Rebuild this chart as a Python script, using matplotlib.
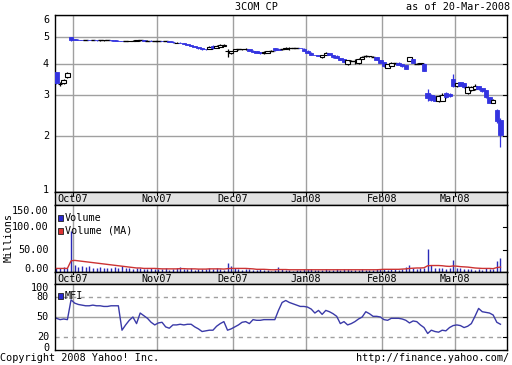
import matplotlib
matplotlib.use('Agg')
import matplotlib.pyplot as plt
import matplotlib.transforms as mtransforms
from matplotlib.patches import Rectangle
import numpy as np

# ---------------- data ----------------
month_labels = ['Oct07', 'Nov07', 'Dec07', 'Jan08', 'Feb08', 'Mar08']
month_first_idx = [5, 28, 49, 69, 90, 110]

opens = [3.71, 3.33, 3.37, 3.55, 5.00, 4.92, 4.91, 4.90, 4.89, 4.89, 4.88, 4.88, 4.87, 4.87, 4.88, 4.88,
         4.87, 4.86, 4.85, 4.84, 4.84, 4.85, 4.86, 4.87, 4.87, 4.86, 4.86, 4.85, 4.85, 4.85, 4.84, 4.84,
         4.82, 4.77, 4.78, 4.76, 4.73, 4.69, 4.65, 4.61, 4.56, 4.53, 4.55, 4.66, 4.59, 4.63, 4.66, 4.44,
         4.38, 4.45, 4.52, 4.52, 4.52, 4.52, 4.47, 4.45, 4.42, 4.37, 4.40, 4.46, 4.56, 4.55, 4.52, 4.53,
         4.56, 4.57, 4.58, 4.58, 4.55, 4.47, 4.40, 4.31, 4.29, 4.22, 4.32, 4.38, 4.30, 4.28, 4.20, 4.15,
         3.98, 4.10, 4.08, 4.02, 4.18, 4.26, 4.26, 4.25, 4.22, 4.12, 4.05, 3.85, 3.93, 4.01, 4.03, 3.98,
         3.95, 4.10, 4.15, 4.00, 4.00, 4.00, 3.08, 3.02, 2.98, 2.84, 2.86, 3.08, 3.05, 3.48, 3.26, 3.40,
         3.36, 3.06, 3.15, 3.18, 3.27, 3.22, 3.15, 2.95, 2.80, 2.62, 2.37]
closes = [3.37, 3.35, 3.46, 3.68, 4.90, 4.91, 4.90, 4.89, 4.89, 4.88, 4.88, 4.87, 4.87, 4.88, 4.88, 4.87,
          4.86, 4.85, 4.84, 4.84, 4.85, 4.86, 4.87, 4.87, 4.86, 4.86, 4.85, 4.85, 4.85, 4.84, 4.84, 4.82,
          4.79, 4.78, 4.76, 4.73, 4.69, 4.65, 4.61, 4.56, 4.52, 4.52, 4.62, 4.57, 4.66, 4.70, 4.69, 4.46,
          4.45, 4.52, 4.52, 4.53, 4.55, 4.45, 4.43, 4.38, 4.37, 4.43, 4.45, 4.46, 4.48, 4.50, 4.52, 4.58,
          4.57, 4.57, 4.58, 4.57, 4.45, 4.40, 4.32, 4.30, 4.28, 4.30, 4.40, 4.30, 4.22, 4.20, 4.12, 4.05,
          4.12, 4.10, 4.09, 4.18, 4.24, 4.26, 4.27, 4.25, 4.14, 4.02, 3.90, 3.98, 4.02, 4.01, 3.96, 3.90,
          3.82, 4.22, 4.02, 4.00, 4.01, 3.75, 2.92, 2.88, 2.86, 2.98, 3.02, 2.96, 2.98, 3.28, 3.36, 3.28,
          3.25, 3.24, 3.24, 3.27, 3.18, 3.12, 2.95, 2.80, 2.88, 2.35, 2.02]
highs = [3.73, 3.41, 3.48, 3.70, 5.02, 4.93, 4.92, 4.91, 4.90, 4.90, 4.89, 4.89, 4.88, 4.89, 4.89, 4.89,
         4.88, 4.87, 4.86, 4.85, 4.86, 4.87, 4.88, 4.88, 4.88, 4.87, 4.87, 4.86, 4.86, 4.86, 4.85, 4.85,
         4.83, 4.80, 4.79, 4.77, 4.74, 4.70, 4.66, 4.62, 4.57, 4.55, 4.64, 4.67, 4.68, 4.72, 4.71, 4.52,
         4.47, 4.54, 4.54, 4.55, 4.57, 4.53, 4.48, 4.46, 4.43, 4.45, 4.47, 4.48, 4.58, 4.57, 4.54, 4.60,
         4.62, 4.59, 4.59, 4.59, 4.56, 4.48, 4.41, 4.32, 4.30, 4.32, 4.42, 4.39, 4.31, 4.29, 4.21, 4.16,
         4.14, 4.12, 4.15, 4.20, 4.26, 4.30, 4.28, 4.27, 4.23, 4.13, 4.06, 4.00, 4.04, 4.03, 4.04, 3.99,
         3.96, 4.24, 4.16, 4.02, 4.02, 4.01, 3.20, 3.03, 2.99, 3.00, 3.08, 3.09, 3.06, 3.65, 3.38, 3.41,
         3.37, 3.26, 3.26, 3.34, 3.28, 3.23, 3.16, 2.96, 2.90, 2.64, 2.42]
lows = [3.35, 3.27, 3.35, 3.52, 4.86, 4.89, 4.89, 4.88, 4.88, 4.87, 4.87, 4.86, 4.86, 4.86, 4.87, 4.86,
        4.85, 4.84, 4.83, 4.83, 4.83, 4.84, 4.85, 4.86, 4.85, 4.85, 4.84, 4.84, 4.84, 4.83, 4.83, 4.81,
        4.78, 4.76, 4.75, 4.72, 4.68, 4.64, 4.60, 4.55, 4.51, 4.50, 4.54, 4.55, 4.58, 4.62, 4.64, 4.25,
        4.36, 4.44, 4.50, 4.51, 4.51, 4.44, 4.42, 4.37, 4.36, 4.36, 4.39, 4.44, 4.47, 4.49, 4.50, 4.52,
        4.50, 4.56, 4.56, 4.56, 4.44, 4.39, 4.31, 4.29, 4.27, 4.21, 4.31, 4.29, 4.21, 4.19, 4.11, 4.04,
        3.96, 4.08, 4.00, 4.00, 4.17, 4.22, 4.25, 4.24, 4.13, 4.01, 3.89, 3.84, 3.92, 4.00, 3.95, 3.89,
        3.81, 4.09, 4.01, 3.98, 3.99, 3.74, 2.85, 2.86, 2.84, 2.82, 2.84, 2.94, 2.96, 3.25, 3.24, 3.26,
        3.23, 3.04, 3.14, 3.16, 3.16, 3.10, 2.93, 2.78, 2.78, 2.30, 1.78]

volume_m = [9, 8, 12, 10, 91, 16, 12, 14, 11, 13, 10, 9, 11, 8, 10, 9, 12, 10, 14, 9, 8, 7, 9, 8, 6, 7, 8, 6,
            7, 6, 8, 5, 6, 9, 12, 7, 6, 8, 5, 6, 7, 6, 8, 7, 9, 6, 5, 21, 13,
            8, 6, 5, 7, 6, 5, 4, 6, 5, 4, 3, 5, 11, 6, 5, 4, 3, 4, 5, 6,
            7, 6, 5, 4, 5, 6, 5, 4, 6, 5, 7, 6, 5, 4, 5, 6, 5, 4, 5, 6, 7,
            6, 5, 7, 6, 5, 7, 11, 16, 8, 7, 9, 10, 52, 16, 10, 8, 9, 6, 8, 27,
            9, 8, 6, 7, 6, 5, 6, 5, 8, 7, 6, 24, 31]
volume_ma_m = [8, 8, 8, 8, 25, 26, 25, 24, 23, 22, 21, 20, 19, 18, 17, 16, 15, 14, 13, 12, 11, 10, 9, 9, 8, 8, 8, 8,
               7.5, 7, 7, 7, 7, 7, 7.5, 7.5, 7, 7, 7, 6.5, 6.5, 6.5, 7, 7, 7, 7, 6.5, 7.5, 8,
               8, 8, 8, 8, 7.5, 7, 6, 6, 6, 5.5, 5, 5, 5.5, 5.5, 5.5, 5, 5, 5, 5, 5,
               5, 5, 5, 5, 5, 5, 5, 5, 5, 5, 5, 5, 5, 5, 5, 5, 5, 5, 5, 5, 5.5,
               6, 6, 6, 6, 6, 6.5, 7, 8, 8.5, 9, 9, 9.5, 14, 14.5, 14.5, 14.5, 14, 13, 12.5, 13.5,
               13, 12, 11.5, 11, 10, 9, 8.5, 8, 8, 8, 7.5, 10, 11]

mfi = [48, 46, 47, 46, 76, 71, 69, 68, 67, 67, 68, 67, 67, 66, 66, 67, 67, 67, 30, 38, 45, 50, 40, 56,
       52, 48, 42, 38, 41, 42, 35, 33, 38, 38, 39, 38, 39, 39, 35, 32, 28, 29, 30, 30, 36, 40, 43, 30,
       32, 35, 38, 42, 43, 40, 46, 45, 45, 46, 46, 46, 46, 60, 72, 75, 72, 70, 68, 66, 66, 65, 62, 56,
       60, 54, 60, 58, 55, 51, 40, 43, 38, 40, 43, 47, 50, 58, 55, 51, 51, 50, 46, 45, 48, 48, 48, 47,
       45, 41, 44, 43, 38, 34, 25, 30, 28, 27, 30, 29, 34, 37, 38, 37, 34, 36, 40, 51, 63, 58, 57, 56,
       53, 42, 39]

price_ticks = [1, 2, 3, 4, 5, 6]
volume_ticks = [0, 50, 100, 150]
mfi_ticks = [0, 20, 50, 80, 100]

# ---------------- figure ----------------
W, H = 512, 365
plt.rcParams['font.family'] = ['DejaVu Sans Mono']
FS = 7.3
fig = plt.figure(figsize=(W / 100, H / 100), dpi=100)
fig.patch.set_facecolor('white')

def rect(x0, y0, x1, y1):
    return [x0 / W, 1 - y1 / H, (x1 - x0) / W, (y1 - y0) / H]

ax = fig.add_axes(rect(55, 15, 507, 192))
s1 = fig.add_axes(rect(55, 192, 507, 205))
av = fig.add_axes(rect(55, 205, 507, 272))
s2 = fig.add_axes(rect(55, 272, 507, 284))
am = fig.add_axes(rect(55, 284, 507, 350))

n = len(closes)
x = np.arange(n)
XL = (-0.41, 123.8)
month_pos = [m - 0.5 for m in month_first_idx]
GRID = '#a0a0a0'
BLUE = '#3434e0'

# price scale (compressed log)
fwd = lambda p: np.log10(np.maximum(np.asarray(p, dtype=float) + 1.2, 1e-9))
inv = lambda y: 10 ** np.asarray(y, dtype=float) - 1.2
ax.set_yscale('function', functions=(fwd, inv))
ax.set_ylim(1, 6)
ax.set_xlim(*XL)

for yv in price_ticks:
    ax.axhline(yv, color=GRID, lw=1, zorder=0)
for mp in month_pos:
    ax.axvline(mp, color=GRID, lw=1, zorder=0)

O = np.array(opens); C = np.array(closes); Hh = np.array(highs); L = np.array(lows)
for i in range(n):
    up = C[i] >= O[i]
    col = 'black' if up else BLUE
    ax.vlines(x[i], L[i], Hh[i], color=col, lw=0.9, zorder=2)
    lo, hi = min(O[i], C[i]), max(O[i], C[i])
    if hi - lo < 0.006:
        ax.hlines(C[i], x[i] - 0.65, x[i] + 0.65, color=col, lw=1.0, zorder=3)
    else:
        if up:
            ax.bar(x[i], hi - lo, bottom=lo, width=1.25, facecolor='white', edgecolor='black',
                   lw=0.8, zorder=3)
        else:
            ax.bar(x[i], hi - lo, bottom=lo, width=1.25, facecolor=BLUE, edgecolor=BLUE,
                   lw=0.6, zorder=3)

def style(a):
    a.set_xticks([])
    a.set_yticks([])
    for sp in a.spines.values():
        sp.set_color('black')
        sp.set_linewidth(1)

for a in (ax, s1, av, s2, am):
    style(a)

def ylabels(a, vals, texts, shifts):
    for v, t, s in zip(vals, texts, shifts):
        tr = mtransforms.blended_transform_factory(a.transAxes, a.transData)
        tr = mtransforms.offset_copy(tr, fig=fig, x=-6, y=s, units='dots')
        a.text(0, v, t, transform=tr, ha='right', va='center', fontsize=FS)
    for v in vals:
        a.plot([1.0, 0.992], [v, v], transform=mtransforms.blended_transform_factory(a.transAxes, a.transData),
               color='black', lw=0.8, clip_on=False)

ylabels(ax, price_ticks, [str(t) for t in price_ticks], [2, 0, 0, 0, 0, -5])

# date strips
for s in (s1, s2):
    s.set_facecolor('#e2e2e2')
    s.set_xlim(*XL)
    s.set_ylim(0, 1)
    for mp, lab in zip(month_pos, month_labels):
        s.text(mp, 0.45, lab, ha='center', va='center', fontsize=FS)
        s.plot([mp, mp], [0.8, 1.0], color='black', lw=0.8)

# volume
av.set_xlim(*XL)
av.set_ylim(0, 150)
for mp in month_pos:
    av.axvline(mp, color=GRID, lw=1, zorder=0)
av.vlines(x, 0, volume_m, color='#2a2ab8', lw=1.0, zorder=2)
av.plot(x, volume_ma_m, color='#cc3333', lw=1.0, zorder=3)
ylabels(av, volume_ticks, ['%.2f' % v for v in volume_ticks], [3, 0, 0, -6])

# MFI
am.set_xlim(*XL)
am.set_ylim(0, 100)
for mp in month_pos:
    am.axvline(mp, color=GRID, lw=1, zorder=0)
am.axhline(50, color=GRID, lw=1, zorder=0)
for yv in (20, 80):
    am.axhline(yv, color=GRID, lw=1, ls=(0, (3, 3)), zorder=0)
am.plot(x, mfi, color='#3a3aa8', lw=1.0, zorder=2)
ylabels(am, mfi_ticks, [str(v) for v in mfi_ticks], [2, 0, 0, 0, -4])

# legends
def fx(px):
    return px / W

def fy(py):
    return 1 - py / H

def legend_item(px, py, color, label):
    fig.patches.append(Rectangle((fx(px), fy(py + 3)), 5 / W, 6 / H, transform=fig.transFigure,
                                 facecolor=color, edgecolor='#222222', lw=0.6))
    fig.text(fx(px + 7), fy(py), label, ha='left', va='center', fontsize=FS)

legend_item(58, 218, '#2a2ad0', 'Volume')
legend_item(58, 231, '#dd3333', 'Volume (MA)')
legend_item(58, 296, '#2a2ad0', 'MFI')

# texts
fig.text(fx(256), fy(7), '3COM CP', ha='center', va='center', fontsize=FS)
fig.text(fx(510), fy(7), 'as of 20-Mar-2008', ha='right', va='center', fontsize=FS)
fig.text(fx(0), fy(358), 'Copyright 2008 Yahoo! Inc.', ha='left', va='center', fontsize=FS)
fig.text(fx(509), fy(358), 'http://finance.yahoo.com/', ha='right', va='center', fontsize=FS)
fig.text(fx(9), fy(238), 'Millions', ha='center', va='center', rotation=90, fontsize=FS)

fig.savefig('out.png', dpi=100)
